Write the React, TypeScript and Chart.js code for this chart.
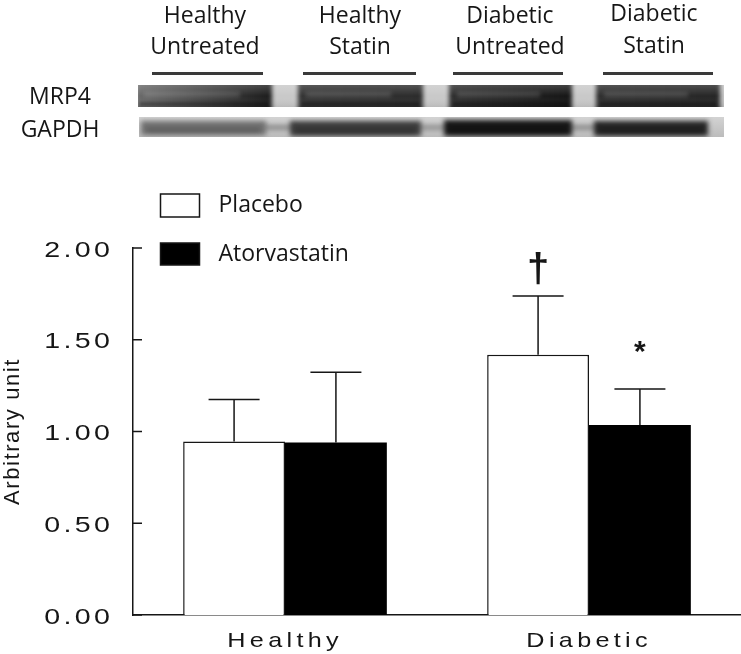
import React, { useEffect, useRef } from 'react';
import { Chart, registerables } from 'chart.js';

Chart.register(...registerables);

// ---------------- data ----------------
const categories = ['Healthy', 'Diabetic'];
const seriesNames = ['Placebo', 'Atorvastatin'];
const placeboMean = [0.945, 1.418];
const placeboErr = [0.229, 0.321];
const atorvaMean = [0.94, 1.036];
const atorvaErr = [0.383, 0.195];
const placeboMarks = ['', '\u2020'];
const atorvaMarks = ['', '*'];
const yMin = 0;
const yMax = 2;
const yStep = 0.5;
const yTitle = 'Arbitrary unit';

const laneTop = ['Healthy', 'Healthy', 'Diabetic', 'Diabetic'];
const laneBottom = ['Untreated', 'Statin', 'Untreated', 'Statin'];
const blotRows = ['MRP4', 'GAPDH'];

// ---------------- styling ----------------
const SANS = '"Liberation Sans", Arial, sans-serif';
const HUMAN = '"Open Sans", sans-serif';
const INK = '#161616';

const laneCenters = [205, 360, 510, 654];
const laneCapTop1 = [7, 7, 7, 5];
const laneCapTop2 = [38, 38, 38, 37];
const underline = [
  [152, 111],
  [303, 113],
  [453, 110],
  [603, 110],
];
const rowCapTop = [88, 121];

const markStyle: Record<string, { font: string; offset: number }> = {
  '\u2020': { font: 'bold 40px "Liberation Sans"', offset: 13.5 },
  '*': { font: 'bold 30px "Liberation Sans"', offset: 28 },
};

function drawStretched(
  ctx: CanvasRenderingContext2D,
  text: string,
  x: number,
  y: number,
  sx: number,
  spacing: number,
  align: 'left' | 'right' | 'center',
) {
  ctx.save();
  ctx.letterSpacing = spacing + 'px';
  ctx.textAlign = 'left';
  ctx.textBaseline = 'alphabetic';
  const w = (ctx.measureText(text).width - spacing) * sx;
  let x0 = x;
  if (align === 'right') x0 = x - w;
  else if (align === 'center') x0 = x - w / 2;
  ctx.translate(x0, y);
  ctx.scale(sx, 1);
  ctx.fillText(text, 0, 0);
  ctx.restore();
}

function drawBlot(ctx: CanvasRenderingContext2D) {
  // MRP4 strip
  const a = { x: 138, y: 85, w: 586, h: 22 };
  ctx.save();
  ctx.beginPath();
  ctx.rect(a.x, a.y, a.w, a.h);
  ctx.clip();
  ctx.fillStyle = '#c9c9c9';
  ctx.fillRect(a.x, a.y, a.w, a.h);
  const mrp: [number, number, string, string][] = [
    [136, 272, '#6a6a6a', '#1c1c1c'],
    [298, 423, '#333333', '#2c2c2c'],
    [449, 572, '#2e2e2e', '#161616'],
    [596, 720, '#2e2e2e', '#262626'],
  ];
  ctx.filter = 'blur(2px)';
  mrp.forEach(([x0, x1, c0, c1]) => {
    const g = ctx.createLinearGradient(x0, 0, x1, 0);
    g.addColorStop(0, c0);
    g.addColorStop(1, c1);
    ctx.fillStyle = g;
    ctx.fillRect(x0, a.y - 8, x1 - x0, a.h + 16);
  });
  ctx.fillStyle = 'rgba(255,255,255,0.16)';
  mrp.forEach(([x0, x1]) => ctx.fillRect(x0 + 8, a.y + 7, x1 - x0 - 40, 5));
  ctx.filter = 'blur(1px)';
  ctx.fillStyle = 'rgba(0,0,0,0.25)';
  mrp.forEach(([x0, x1]) => ctx.fillRect(x0 + 4, a.y + a.h - 5, x1 - x0 - 8, 4));
  ctx.filter = 'none';
  const vg = ctx.createLinearGradient(0, a.y, 0, a.y + a.h);
  vg.addColorStop(0, 'rgba(255,255,255,0.18)');
  vg.addColorStop(0.5, 'rgba(255,255,255,0)');
  vg.addColorStop(1, 'rgba(0,0,0,0.08)');
  ctx.fillStyle = vg;
  ctx.fillRect(a.x, a.y, a.w, a.h);
  ctx.restore();

  // GAPDH strip
  const b = { x: 139, y: 117, w: 585, h: 20 };
  ctx.save();
  ctx.beginPath();
  ctx.rect(b.x, b.y, b.w, b.h);
  ctx.clip();
  const bg = ctx.createLinearGradient(0, b.y, 0, b.y + b.h);
  bg.addColorStop(0, '#d3d3d3');
  bg.addColorStop(1, '#bcbcbc');
  ctx.fillStyle = bg;
  ctx.fillRect(b.x, b.y, b.w, b.h);
  ctx.filter = 'blur(2.5px)';
  const smears: [number, number, string][] = [
    [262, 296, '#8a8a8a'],
    [418, 448, '#909090'],
    [568, 598, '#8a8a8a'],
  ];
  smears.forEach(([x0, x1, c]) => {
    ctx.fillStyle = c;
    ctx.fillRect(x0, b.y + 8, x1 - x0, 5);
  });
  const lanes: [number, number, string, number, number][] = [
    [141, 266, '#707070', 4, 14],
    [290, 421, '#3c3c3c', 4, 15],
    [444, 572, '#161616', 3, 16],
    [594, 708, '#242424', 4, 15],
  ];
  lanes.forEach(([x0, x1, c, dy, h]) => {
    ctx.fillStyle = c;
    ctx.fillRect(x0, b.y + dy, x1 - x0, h);
  });
  ctx.fillStyle = 'rgba(0,0,0,0.18)';
  lanes.forEach(([x0, x1, , dy, h]) => ctx.fillRect(x0 + 6, b.y + dy + h / 2, x1 - x0 - 12, h / 2 - 2));
  ctx.filter = 'none';
  ctx.restore();
}

const customPlugin = {
  id: 'customDecor',
  beforeDraw(chart: any) {
    chart.ctx.letterSpacing = '1.6px';
  },
  afterDatasetsDraw(chart: any) {
    const ctx: CanvasRenderingContext2D = chart.ctx;
    const y = chart.scales.y;
    const x = chart.scales.x;
    const area = chart.chartArea;
    ctx.save();
    ctx.letterSpacing = '0px';
    ctx.strokeStyle = INK;
    ctx.lineWidth = 1.5;
    // inward y ticks
    y.ticks.forEach((t: any) => {
      const py = y.getPixelForValue(t.value);
      ctx.beginPath();
      ctx.moveTo(area.left, py);
      ctx.lineTo(area.left + 9, py);
      ctx.stroke();
    });
    // error bars and marks
    chart.data.datasets.forEach((ds: any, di: number) => {
      const meta = chart.getDatasetMeta(di);
      meta.data.forEach((bar: any, i: number) => {
        const top = y.getPixelForValue(ds.data[i] + ds.errors[i]);
        ctx.beginPath();
        ctx.moveTo(bar.x, bar.y);
        ctx.lineTo(bar.x, top);
        ctx.moveTo(bar.x - 25.5, top);
        ctx.lineTo(bar.x + 25.5, top);
        ctx.stroke();
        const m = ds.marks[i];
        if (m) {
          const st = markStyle[m];
          ctx.font = st.font;
          ctx.fillStyle = INK;
          ctx.textAlign = 'center';
          ctx.textBaseline = 'alphabetic';
          ctx.fillText(m, bar.x, top - st.offset);
        }
      });
    });
    // tick labels (wide face)
    ctx.fillStyle = INK;
    ctx.font = '22px ' + SANS;
    y.ticks.forEach((t: any) => {
      const py = y.getPixelForValue(t.value);
      drawStretched(ctx, Number(t.value).toFixed(2), area.left - 23, py + 8.5, 1.3, 2.6, 'right');
    });
    ctx.font = '21px ' + SANS;
    chart.data.labels.forEach((lab: string, i: number) => {
      const px = x.getPixelForTick(i);
      drawStretched(ctx, lab, px - 2, area.bottom + 32, 1.2, 3.6, 'center');
    });
    ctx.restore();
  },
  afterDraw(chart: any) {
    const ctx: CanvasRenderingContext2D = chart.ctx;
    const area = chart.chartArea;
    ctx.save();
    ctx.letterSpacing = '0px';
    const boxes = [
      { top: area.top - 54, h: 23 },
      { top: area.top - 5, h: 22 },
    ];
    chart.data.datasets.forEach((ds: any, i: number) => {
      const bx = area.left + 27.5;
      const b = boxes[i];
      ctx.fillStyle = ds.backgroundColor;
      ctx.fillRect(bx, b.top, 39, b.h);
      ctx.strokeStyle = INK;
      ctx.lineWidth = 1.5;
      ctx.strokeRect(bx, b.top, 39, b.h);
      ctx.font = '23px ' + HUMAN;
      ctx.fillStyle = INK;
      ctx.textAlign = 'left';
      ctx.textBaseline = 'middle';
      ctx.fillText(ds.label, bx + 58, b.top + b.h / 2);
    });
    ctx.restore();
    ctx.letterSpacing = '0px';
  },
};

export default function App() {
  const chartRef = useRef<HTMLCanvasElement | null>(null);
  const blotRef = useRef<HTMLCanvasElement | null>(null);

  useEffect(() => {
    const bc = blotRef.current;
    if (bc) {
      const bctx = bc.getContext('2d');
      if (bctx) drawBlot(bctx);
    }
    const cv = chartRef.current;
    if (!cv) return;
    const chart = new Chart(cv, {
      type: 'bar',
      data: {
        labels: categories,
        datasets: [
          {
            label: seriesNames[0],
            data: placeboMean,
            errors: placeboErr,
            marks: placeboMarks,
            backgroundColor: '#ffffff',
            borderColor: INK,
            borderWidth: 1.5,
            categoryPercentage: 0.67,
            barPercentage: 1,
          } as any,
          {
            label: seriesNames[1],
            data: atorvaMean,
            errors: atorvaErr,
            marks: atorvaMarks,
            backgroundColor: '#000000',
            borderColor: '#000000',
            borderWidth: 0,
            categoryPercentage: 0.67,
            barPercentage: 1,
          } as any,
        ],
      },
      options: {
        responsive: false,
        animation: false,
        layout: { padding: { top: 248, left: 0, right: -4, bottom: 0 } },
        plugins: {
          legend: { display: false },
          tooltip: { enabled: false },
        },
        scales: {
          x: {
            grid: { display: false, drawTicks: false },
            border: { display: true, color: INK, width: 1.5 },
            ticks: { display: false },
            afterFit: (s: any) => {
              s.height = 39;
            },
          },
          y: {
            min: yMin,
            max: yMax,
            grid: { display: false, drawTicks: false },
            border: { display: true, color: INK, width: 1.5 },
            ticks: { display: false, stepSize: yStep },
            title: {
              display: true,
              text: yTitle,
              color: INK,
              padding: 0,
              font: { family: SANS, size: 22 },
            },
            afterFit: (s: any) => {
              s.width = 133;
            },
          },
        },
      },
      plugins: [customPlugin],
    } as any);
    return () => chart.destroy();
  }, []);

  const textBase: React.CSSProperties = {
    position: 'absolute',
    fontFamily: HUMAN,
    fontSize: 23,
    lineHeight: '23px',
    color: INK,
    whiteSpace: 'nowrap',
    textAlign: 'center',
    width: 160,
  };
  const capOff = 4;

  return (
    <div
      style={{
        position: 'absolute',
        left: 0,
        top: 0,
        width: 741,
        height: 654,
        overflow: 'hidden',
        background: '#fff',
      }}
    >
      <canvas ref={chartRef} width={741} height={654} style={{ position: 'absolute', left: 0, top: 0 }} />
      <canvas ref={blotRef} width={741} height={150} style={{ position: 'absolute', left: 0, top: 0 }} />
      {laneTop.map((t, i) => (
        <div key={'t' + i} style={{ ...textBase, left: laneCenters[i] - 80, top: laneCapTop1[i] - capOff }}>
          {t}
        </div>
      ))}
      {laneBottom.map((t, i) => (
        <div key={'b' + i} style={{ ...textBase, left: laneCenters[i] - 80, top: laneCapTop2[i] - capOff }}>
          {t}
        </div>
      ))}
      {underline.map(([x, w], i) => (
        <div
          key={'u' + i}
          style={{ position: 'absolute', left: x, top: 72, width: w, height: 3, background: '#3a3a3a' }}
        />
      ))}
      {blotRows.map((r, i) => (
        <div key={'r' + i} style={{ ...textBase, left: 60 - 80, top: rowCapTop[i] - capOff }}>
          {r}
        </div>
      ))}
    </div>
  );
}
